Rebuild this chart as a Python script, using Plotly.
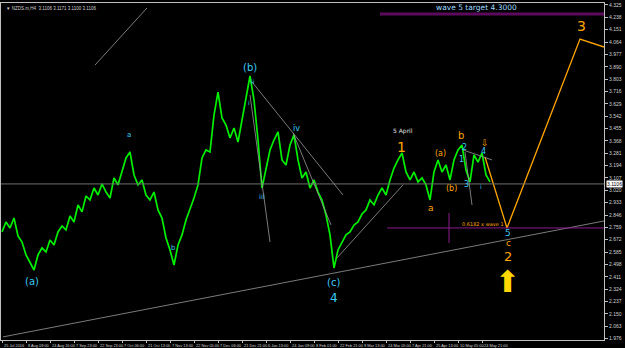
import plotly.graph_objects as go

# ---------------- data ----------------
date_labels = ["25 Jul 2016", "8 Aug 09:00", "24 Aug 16:00", "7 Sep 23:00", "22 Sep 23:00",
               "7 Oct 06:00", "21 Oct 13:00", "7 Nov 13:00", "22 Nov 05:00", "7 Dec 06:00",
               "21 Dec 21:00", "6 Jan 13:00", "24 Jan 09:00", "8 Feb 01:00", "22 Feb 21:00",
               "9 Mar 13:00", "24 Mar 05:00", "7 Apr 21:00", "25 Apr 13:00", "10 May 05:00",
               "24 May 21:00"]
date_label_bars = [0, 6, 12, 18, 24, 30, 36, 42, 48, 54, 60, 66, 72, 78, 84, 90, 96, 102, 108, 114, 120]

price_ticks = [4.325, 4.238, 4.151, 4.064, 3.977, 3.890, 3.803, 3.716, 3.629, 3.542,
               3.455, 3.368, 3.281, 3.194, 3.107, 3.020, 2.933, 2.846, 2.759, 2.672,
               2.585, 2.498, 2.411, 2.324, 2.237, 2.150, 2.063, 1.976]

price = [2.727, 2.797, 2.755, 2.825, 2.699, 2.656, 2.565, 2.516, 2.459, 2.565,
         2.614, 2.586, 2.670, 2.635, 2.727, 2.769, 2.741, 2.839, 2.797, 2.917,
         2.868, 2.980, 2.952, 3.036, 2.987, 3.065, 3.008, 2.966, 3.107, 3.058,
         3.163, 3.248, 3.290, 3.128, 3.058, 3.093, 2.987, 2.952, 3.008, 2.882,
         2.825, 2.684, 2.600, 2.494, 2.635, 2.706, 2.811, 2.882, 2.966, 3.058,
         3.248, 3.304, 3.290, 3.550, 3.712, 3.529, 3.480, 3.388, 3.459, 3.360,
         3.515, 3.670, 3.825, 3.656, 3.374, 3.036, 3.163, 3.304, 3.374, 3.431,
         3.234, 3.198, 3.339, 3.410, 3.234, 3.107, 3.149, 3.036, 3.093, 3.008,
         2.952, 2.846, 2.706, 2.473, 2.600, 2.656, 2.706, 2.727, 2.776, 2.797,
         2.853, 2.882, 2.952, 2.917, 2.987, 3.036, 2.987, 3.093, 3.177, 3.234,
         3.283, 3.149, 3.093, 3.149, 3.079, 3.107, 3.058, 2.952, 3.149, 3.234,
         3.149, 3.198, 3.093, 3.234, 3.304, 3.339, 3.163, 3.079, 3.269, 3.219,
         3.283, 3.128, 3.079]
bars = list(range(len(price)))

bid_level = 3.065
bid_text = "3.1106"
header_text = "▼ NZDS.m,H4  3.1106 3.1171 3.1100 3.1106"

# gray trend lines: (bar0, price0, bar1, price1)
gray_lines = [
    (23.25, 3.902, 36.25, 4.304),
    (0.25, 1.988, 150.5, 2.804),
    (62.5, 3.783, 85.25, 2.987),
    (62.0, 3.691, 67.0, 2.656),
    (72.75, 3.424, 82.25, 2.776),
    (83.75, 2.544, 100.25, 3.058),
    (115.25, 3.304, 122.5, 3.234),
    (115.75, 3.290, 117.5, 2.917),
]
projection_bars = [120.75, 126.25, 144.5, 150.5]
projection_prices = [3.255, 2.755, 4.085, 4.029]

fib_level = 2.755
fib_range = (96.25, 150.5)
fib_marker = (111.75, 2.860, 2.649)
target_level = 4.261
target_range = (94.5, 150.5)

cyan_labels = [("(a)", 7.5, 2.375, 10), ("(b)", 62.0, 3.888, 10), ("(c)", 82.75, 2.368, 10),
               ("4", 83.0, 2.262, 12), ("a", 31.75, 3.410, 7), ("b", 42.75, 2.614, 7),
               ("ii", 62.75, 3.783, 6), ("i", 61.8, 3.640, 6), ("iii", 65.0, 2.973, 7),
               ("iv", 73.5, 3.452, 8), ("1", 114.75, 3.234, 8), ("2", 115.5, 3.325, 8),
               ("3", 116.0, 3.058, 8), ("4", 120.25, 3.290, 8), ("i", 119.75, 3.044, 6),
               ("5", 126.5, 2.720, 9)]
orange_labels = [("1", 99.75, 3.325, 14), ("(a)", 109.5, 3.276, 8), ("(b)", 112.25, 3.036, 8),
                 ("a", 107.25, 2.896, 9), ("b", 114.75, 3.403, 10), ("⇩", 120.75, 3.353, 9),
                 ("c", 126.5, 2.648, 9), ("2", 126.5, 2.555, 13), ("3", 144.75, 4.177, 14)]
white_labels = [("5 April", 100.25, 3.438, 6)]
fib_text = ("0.6182 x wave 1", 120.25, 2.783)
target_text = ("wave 5 target 4.3000", 118.5, 4.304)
arrow_pos = (126.25, 2.375)

# ---------------- figure ----------------
CYAN = "#3cc8f5"
ORANGE = "#ffa500"
GRAY = "#9a9a9a"
PURPLE = "#5c0b5c"

fig = go.Figure()
fig.add_trace(go.Scatter(x=bars, y=price, mode="lines",
                         line=dict(color="#00f000", width=1.7), hoverinfo="skip"))
fig.add_trace(go.Scatter(x=projection_bars, y=projection_prices, mode="lines",
                         line=dict(color=ORANGE, width=1.3), hoverinfo="skip"))

shapes = []
shapes.append(dict(type="line", xref="paper", x0=0, x1=1, y0=bid_level, y1=bid_level,
                   line=dict(color="#707070", width=1)))
for x0, y0, x1, y1 in gray_lines:
    shapes.append(dict(type="line", x0=x0, y0=y0, x1=x1, y1=y1,
                       line=dict(color=GRAY, width=0.8)))
shapes.append(dict(type="line", x0=fib_range[0], x1=fib_range[1], y0=fib_level, y1=fib_level,
                   line=dict(color="#8b1a8b", width=1)))
shapes.append(dict(type="line", x0=fib_marker[0], x1=fib_marker[0], y0=fib_marker[1],
                   y1=fib_marker[2], line=dict(color="#8b1a8b", width=1)))
shapes.append(dict(type="line", x0=target_range[0], x1=target_range[1], y0=target_level,
                   y1=target_level, line=dict(color=PURPLE, width=3)))

ann = []
for t, x, y, s in cyan_labels:
    ann.append(dict(text=t, x=x, y=y, font=dict(color=CYAN, size=s)))
for t, x, y, s in orange_labels:
    ann.append(dict(text=t, x=x, y=y, font=dict(color=ORANGE, size=s)))
for t, x, y, s in white_labels:
    ann.append(dict(text=t, x=x, y=y, font=dict(color="#e0e0e0", size=s)))
ann.append(dict(text=fib_text[0], x=fib_text[1], y=fib_text[2],
                font=dict(color=ORANGE, size=5)))
ann.append(dict(text=target_text[0], x=target_text[1], y=target_text[2],
                font=dict(color="#9fd8ff", size=7.5)))
ann.append(dict(text="⬆", x=arrow_pos[0], y=arrow_pos[1],
                font=dict(color="#ffd700", size=30, family="DejaVu Sans")))
for a in ann:
    a.update(showarrow=False, xanchor="center", yanchor="middle")
    a["font"].setdefault("family", "DejaVu Sans")

for lbl, b in zip(date_labels, date_label_bars):
    ann.append(dict(text=lbl, x=b, xref="x", y=0, yref="paper", yanchor="top", xanchor="left",
                    yshift=-1, xshift=0, showarrow=False,
                    font=dict(color="#d0d0d0", size=3.9, family="Liberation Sans")))
ann.append(dict(text=bid_text, x=1, xref="paper", y=bid_level, yref="y", xanchor="left",
                yanchor="middle", xshift=2, showarrow=False, bgcolor="#ffffff",
                borderpad=0, font=dict(color="#000000", size=5, family="Liberation Sans")))
ann.append(dict(text=header_text, x=0, xref="paper", y=1, yref="paper", xanchor="left",
                yanchor="top", xshift=3, yshift=-1, showarrow=False,
                font=dict(color="#d0d0d0", size=4.5, family="Liberation Sans")))

fig.update_layout(
    width=625, height=348,
    margin=dict(l=1, r=21, t=3, b=8),
    paper_bgcolor="#000000", plot_bgcolor="#000000",
    showlegend=False, shapes=shapes, annotations=ann,
    xaxis=dict(range=[-0.25, 150.5], showgrid=False, zeroline=False,
               tickvals=date_label_bars, showticklabels=False, ticks="outside",
               ticklen=2, tickcolor="#c0c0c0", showline=True, linecolor="#c0c0c0",
               linewidth=1, mirror=True),
    yaxis=dict(range=[1.966, 4.339], side="right", showgrid=False, zeroline=False,
               tickvals=price_ticks, ticktext=[f"{v:.3f}" for v in price_ticks],
               ticks="outside", ticklen=3, tickcolor="#c0c0c0",
               tickfont=dict(color="#d0d0d0", size=5, family="Liberation Sans"),
               showline=True, linecolor="#c0c0c0", linewidth=1, mirror=True),
)

fig.write_html("out.html")
